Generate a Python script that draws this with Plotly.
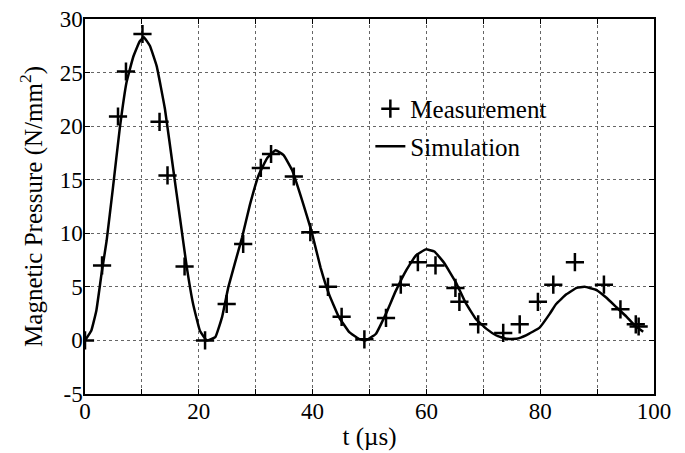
import plotly.graph_objects as go

# Measurement points (t in µs, pressure in N/mm²)
meas_t = [0, 3.0, 5.8, 7.2, 10.1, 13.1, 14.5, 17.5, 21.1, 24.9, 27.8, 30.9, 32.7, 36.7,
          39.6, 42.7, 45.1, 49.1, 52.9, 55.5, 58.5, 61.6, 65.1, 65.8, 69.1, 73.5, 76.4,
          79.6, 82.3, 86.1, 91.2, 94.1, 96.8, 97.3]
meas_p = [0, 7.0, 20.9, 25.1, 28.6, 20.4, 15.4, 6.9, 0.0, 3.4, 9.0, 16.1, 17.4, 15.3,
          10.1, 5.0, 2.2, 0.1, 2.1, 5.2, 7.3, 7.0, 4.9, 3.6, 1.5, 0.7, 1.5,
          3.6, 5.2, 7.3, 5.2, 2.9, 1.5, 1.3]

# Simulation curve
sim_t = [0, 1.1, 2.0, 2.9, 3.8, 4.9, 6.1, 7.3, 8.5, 9.6, 10.35, 11.4, 12.6, 14.05, 15.5,
         16.7, 17.9, 19.0, 20.2, 21.4, 22.9, 24.1, 25.2, 27.6, 29.0, 30.5, 32.0, 33.5,
         34.9, 36.4, 38.2, 39.8, 41.4, 42.9, 44.6, 46.4, 48.1, 49.3, 51.1, 52.9, 54.6,
         56.4, 58.1, 59.9, 61.4, 63.1, 65.2, 66.9, 68.7, 70.5, 72.3, 74.0, 75.8, 77.6,
         79.9, 81.7, 82.8, 84.6, 86.4, 87.8, 89.9, 91.6, 93.4, 95.2, 96.6, 98.1]
sim_p = [0, 0.9, 2.8, 6.2, 9.3, 14.2, 19.75, 24.1, 26.5, 27.9, 28.3, 27.5, 25.6, 21.6, 16.0,
         11.4, 6.8, 3.4, 0.9, 0.0, 0.3, 2.2, 5.0, 9.6, 12.7, 15.4, 17.0, 17.75,
         17.3, 15.9, 13.0, 10.2, 6.8, 4.3, 2.2, 0.8, 0.15, 0.0, 0.6, 2.5, 4.6,
         6.5, 7.9, 8.5, 8.3, 7.25, 5.4, 3.5, 2.0, 1.1, 0.46, 0.15, 0.15, 0.5,
         1.2, 2.5, 3.4, 4.3, 4.9, 5.0, 4.7, 4.0, 3.1, 2.2, 1.4, 0.8]

x_tickvals = [0, 20, 40, 60, 80, 100]
x_ticktext = ["0", "20", "40", "60", "80", "100"]
y_tickvals = [-5, 0, 5, 10, 15, 20, 25, 30]
y_ticktext = ["-5", "0", "5", "10", "15", "20", "25", "30"]

FONT = "Liberation Serif"
TICK_SIZE = 23
TITLE_SIZE = 25
GRID_COLOR = "#666666"

fig = go.Figure()
fig.add_trace(go.Scatter(
    x=meas_t, y=meas_p, mode="markers", name="Measurement", legendgroup="m",
    marker=dict(symbol="cross-thin", size=13, color="black",
                line=dict(width=2.5, color="black")),
))
fig.add_trace(go.Scatter(
    x=sim_t, y=sim_p, mode="lines", name="Simulation", legendgroup="s",
    line=dict(color="black", width=2.5, shape="spline", smoothing=0.3),
))

axis_common = dict(
    showline=True, linecolor="black", linewidth=1.5, mirror="ticks",
    ticks="inside", ticklen=5, tickcolor="black", tickwidth=1.2,
    showgrid=True, gridcolor=GRID_COLOR, gridwidth=1, griddash="dot",
    zeroline=False, automargin=False, ticklabeloverflow="allow",
    tickfont=dict(family=FONT, size=TICK_SIZE, color="black"),
)

fig.update_xaxes(range=[0, 100], tickmode="array", tickvals=x_tickvals,
                 ticktext=x_ticktext, ticklabelstandoff=-4,
                 minor=dict(tickmode="linear", tick0=0, dtick=10, ticks="inside",
                            ticklen=5, tickcolor="black", tickwidth=1.2,
                            showgrid=True, gridcolor=GRID_COLOR, gridwidth=1,
                            griddash="dot"),
                 title=dict(text="t (µs)", font=dict(family=FONT, size=TITLE_SIZE, color="black"),
                            standoff=4),
                 **axis_common)
fig.update_yaxes(range=[-5, 30], tickmode="array", tickvals=y_tickvals,
                 ticktext=y_ticktext, ticklabelstandoff=-4,
                 title=dict(text="Magnetic Pressure (N/mm<sup>2</sup>)",
                            font=dict(family=FONT, size=TITLE_SIZE, color="black"),
                            standoff=10),
                 **axis_common)

fig.update_layout(
    width=677, height=445,
    margin=dict(l=77, r=31, t=11, b=59),
    paper_bgcolor="white", plot_bgcolor="white",
    font=dict(family=FONT, size=TITLE_SIZE, color="black"),
    legend=dict(x=0.5015, y=0.711, xanchor="left", yanchor="middle",
                bgcolor="rgba(0,0,0,0)", borderwidth=0,
                traceorder="grouped", tracegroupgap=2,
                font=dict(family=FONT, size=TITLE_SIZE, color="black"),
                itemwidth=30),
)

fig.write_html("out.html")
